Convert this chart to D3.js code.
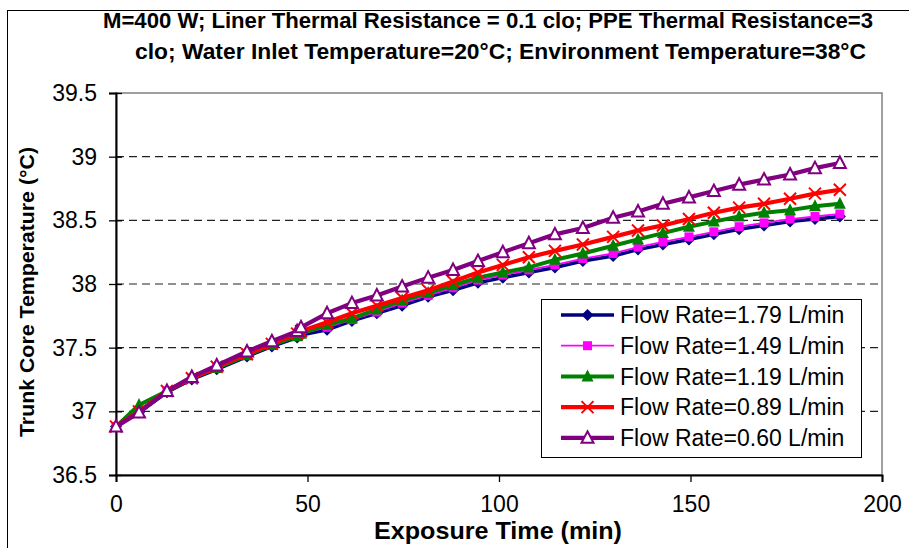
<!DOCTYPE html>
<html lang="en">
<head>
<meta charset="utf-8">
<title>Trunk Core Temperature</title>
<script src="https://cdn.jsdelivr.net/npm/d3@7"></script>
<style>
  body { margin: 0; background: #fff; }
  text { font-family: "Liberation Sans", Arial, sans-serif; }
</style>
</head>
<body>
<svg id="chart" width="909" height="548"></svg>
<script>

// exposure time (min)
var times = [0, 6, 13.3, 19.8, 26.3, 34.2, 40.7, 47.3, 48.3, 55.1, 61.6, 68.1, 74.7, 81.5, 88,
  94.5, 101, 107.8, 114.6, 121.9, 129.8, 136.3, 142.8, 149.6, 156.1, 162.7, 169.2, 176, 182.5, 189]

var flow179 = [36.88, 36.99, 37.15, 37.25, 37.33, 37.43, 37.51, 37.58, 37.60, 37.64, 37.71, 37.77, 37.83, 37.90, 37.95,
  38.01, 38.05, 38.09, 38.13, 38.18, 38.22, 38.27, 38.31, 38.35, 38.39, 38.43, 38.46, 38.49, 38.51, 38.53]
var flow149 = [36.88, 37.0, 37.16, 37.26, 37.34, 37.45, 37.52, 37.59, 37.61, 37.66, 37.72, 37.78, 37.85, 37.91, 37.97,
  38.03, 38.07, 38.11, 38.15, 38.20, 38.24, 38.29, 38.33, 38.37, 38.41, 38.45, 38.48, 38.51, 38.53, 38.55]
var flow119 = [36.88, 37.05, 37.16, 37.26, 37.34, 37.44, 37.52, 37.59, 37.61, 37.68, 37.73, 37.80, 37.87, 37.93, 37.99,
  38.05, 38.09, 38.13, 38.19, 38.24, 38.30, 38.35, 38.40, 38.45, 38.49, 38.53, 38.56, 38.58, 38.61, 38.63]
var flow089 = [36.88, 37.0, 37.16, 37.26, 37.35, 37.45, 37.53, 37.61, 37.63, 37.70, 37.77, 37.83, 37.89, 37.95, 38.02,
  38.09, 38.15, 38.21, 38.26, 38.31, 38.37, 38.42, 38.46, 38.51, 38.56, 38.60, 38.63, 38.67, 38.71, 38.74]
var flow060 = [36.88, 36.99, 37.16, 37.27, 37.36, 37.47, 37.55, 37.63, 37.66, 37.77, 37.85, 37.91, 37.98, 38.05, 38.11,
  38.18, 38.25, 38.32, 38.39, 38.44, 38.52, 38.57, 38.63, 38.68, 38.73, 38.78, 38.82, 38.86, 38.91, 38.95]

var seriesNames = ["Flow Rate=1.79 L/min", "Flow Rate=1.49 L/min", "Flow Rate=1.19 L/min",
  "Flow Rate=0.89 L/min", "Flow Rate=0.60 L/min"]

var xTicks = [0, 50, 100, 150, 200]
var yTicks = [36.5, 37, 37.5, 38, 38.5, 39, 39.5]

var series = [
  {name: seriesNames[0], values: flow179, color: "#000080", width: 3.5, marker: "diamond"},
  {name: seriesNames[1], values: flow149, color: "#ff00ff", width: 1.8, marker: "square"},
  {name: seriesNames[2], values: flow119, color: "#008000", width: 4, marker: "triangle"},
  {name: seriesNames[3], values: flow089, color: "#ff0000", width: 4.2, marker: "cross"},
  {name: seriesNames[4], values: flow060, color: "#800080", width: 4.2, marker: "open"}
]

var svg = d3.select("#chart"),
  margin = {top: 93, left: 116, bottom: 73, right: 27},
  width = +svg.attr("width"),
  height = +svg.attr("height")

var x = d3.scaleLinear().domain([0, 200]).range([margin.left, width - margin.right])
var y = d3.scaleLinear().domain([36.5, 39.5]).range([height - margin.bottom, margin.top])

// outer chart border
svg.append("rect")
  .attr("x", 7.5).attr("y", 10.5)
  .attr("width", 920).attr("height", 560)
  .attr("fill", "none").attr("stroke", "#000").attr("stroke-width", 1)

// plot area border
svg.append("rect")
  .attr("x", x(0)).attr("y", y(39.5))
  .attr("width", x(200) - x(0)).attr("height", y(36.5) - y(39.5))
  .attr("fill", "none").attr("stroke", "#808080").attr("stroke-width", 1.5)

// gridlines
svg.append("g").selectAll("line")
  .data(yTicks.filter(d => d > 36.5 && d < 39.5))
  .enter().append("line")
  .attr("x1", x(0)).attr("x2", x(200))
  .attr("y1", d => y(d)).attr("y2", d => y(d))
  .attr("stroke", "#222").attr("stroke-width", 1.2)
  .attr("stroke-dasharray", "8,5")

// axes
var xAxis = svg.append("g")
  .attr("transform", `translate(0,${y(36.5)})`)
  .call(d3.axisBottom(x).tickValues(xTicks).tickSize(7).tickPadding(14).tickFormat(d3.format("d")))
var yAxis = svg.append("g")
  .attr("transform", `translate(${x(0)},0)`)
  .call(d3.axisLeft(y).tickValues(yTicks).tickSize(7).tickPadding(12).tickFormat(d => d))

;[xAxis, yAxis].forEach(a => {
  a.select(".domain").attr("stroke", "#000").attr("stroke-width", 2)
  a.selectAll(".tick line").attr("stroke", "#000").attr("stroke-width", 1.3)
  a.selectAll(".tick text").attr("font-size", "23px").attr("fill", "#000")
    .style("font-family", '"Liberation Sans", Arial, sans-serif')
})
// y ticks cross the axis
yAxis.selectAll(".tick line").attr("x1", 6)

// markers
function drawMarker(g, type, color, cx, cy) {
  if (type == "diamond") {
    g.append("path").attr("d", `M${cx},${cy - 6}L${cx + 6},${cy}L${cx},${cy + 6}L${cx - 6},${cy}Z`)
      .attr("fill", color)
  } else if (type == "square") {
    g.append("rect").attr("x", cx - 4.5).attr("y", cy - 4.5).attr("width", 9).attr("height", 9)
      .attr("fill", color)
  } else if (type == "triangle") {
    g.append("path").attr("d", `M${cx},${cy - 7}L${cx + 6},${cy + 5}L${cx - 6},${cy + 5}Z`)
      .attr("fill", color)
  } else if (type == "cross") {
    g.append("path").attr("d", `M${cx - 6},${cy - 6}L${cx + 6},${cy + 6}M${cx + 6},${cy - 6}L${cx - 6},${cy + 6}`)
      .attr("stroke", color).attr("stroke-width", 2).attr("fill", "none")
  } else {
    g.append("path").attr("d", `M${cx},${cy - 6.5}L${cx + 6},${cy + 5}L${cx - 6},${cy + 5}Z`)
      .attr("fill", "#fff").attr("stroke", color).attr("stroke-width", 2)
  }
}

var line = d3.line()
  .x((d, i) => x(times[i]))
  .y(d => y(d))

series.forEach(s => {
  var g = svg.append("g")
  g.append("path")
    .attr("d", line(s.values))
    .attr("fill", "none")
    .attr("stroke", s.color)
    .attr("stroke-width", s.width)
    .attr("stroke-linejoin", "round")
  s.values.forEach((v, i) => drawMarker(g, s.marker, s.color, x(times[i]), y(v)))
})

// legend
var legend = svg.append("g")
legend.append("rect")
  .attr("x", 541.5).attr("y", 299.5)
  .attr("width", 320).attr("height", 158)
  .attr("fill", "#fff").attr("stroke", "#000").attr("stroke-width", 1)

series.forEach((s, i) => {
  var ly = 315 + i * 30.7
  legend.append("line")
    .attr("x1", 561).attr("x2", 614)
    .attr("y1", ly).attr("y2", ly)
    .attr("stroke", s.color).attr("stroke-width", s.width)
  drawMarker(legend, s.marker, s.color, 587.5, ly)
  legend.append("text")
    .attr("x", 620).attr("y", ly)
    .attr("dy", "0.36em")
    .attr("font-size", "23px")
    .text(s.name)
})

// titles
var title = svg.append("g")
  .style("font-family", '"Liberation Sans Narrow", "Arial Narrow", "Liberation Sans", sans-serif')
  .attr("font-weight", "bold")
  .attr("font-size", "22px")
title.append("text")
  .attr("x", 103).attr("y", 28)
  .attr("textLength", 770).attr("lengthAdjust", "spacingAndGlyphs")
  .text("M=400 W; Liner Thermal Resistance = 0.1 clo;  PPE Thermal Resistance=3")
title.append("text")
  .attr("x", 135).attr("y", 59)
  .attr("textLength", 731).attr("lengthAdjust", "spacingAndGlyphs")
  .text("clo; Water Inlet Temperature=20°C; Environment Temperature=38°C")

svg.append("text")
  .attr("x", 498).attr("y", 539)
  .attr("text-anchor", "middle")
  .attr("font-weight", "bold")
  .attr("font-size", "24px")
  .attr("textLength", 248).attr("lengthAdjust", "spacingAndGlyphs")
  .text("Exposure Time (min)")

svg.append("text")
  .attr("transform", "translate(34,292) rotate(-90)")
  .attr("text-anchor", "middle")
  .attr("font-weight", "bold")
  .attr("font-size", "21px")
  .attr("textLength", 290).attr("lengthAdjust", "spacingAndGlyphs")
  .text("Trunk Core Temperature (°C)")

</script>
</body>
</html>
